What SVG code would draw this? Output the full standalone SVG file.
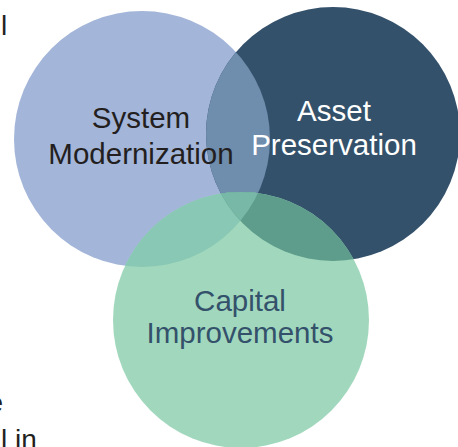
<svg xmlns="http://www.w3.org/2000/svg" width="458" height="447" viewBox="0 0 458 447">
<style>
.t{font-family:"Liberation Sans",Arial,sans-serif;font-size:29.5px;text-anchor:middle}
.edge{font-family:"Liberation Sans",Arial,sans-serif;font-size:28px;fill:#231F20}
</style>
<defs>
<clipPath id="cL"><circle cx="142" cy="139" r="128"/></clipPath>
<clipPath id="cR"><circle cx="333" cy="134" r="127"/></clipPath>
<clipPath id="cB"><circle cx="241" cy="320" r="128"/></clipPath>
</defs>
<rect width="458" height="447" fill="#FFFFFF"/>
<g id="edge-text">
<text class="edge" x="-9" y="-1">y</text>
<text class="edge" x="1" y="35">l</text>
<text class="edge" x="-12.5" y="412">e</text>
<text class="edge" x="1" y="449">l in</text>
</g>
<g id="system-modernization">
<circle cx="142" cy="139" r="128" fill="#A3B5D9"/>
</g>
<g id="asset-preservation">
<circle cx="333" cy="134" r="127" fill="#34516B"/>
<circle cx="333" cy="134" r="127" fill="#6F8DAD" clip-path="url(#cL)"/>
</g>
<g id="capital-improvements">
<circle cx="241" cy="320" r="128" fill="#A1D8BD"/>
<circle cx="241" cy="320" r="128" fill="#89C8B4" clip-path="url(#cL)"/>
<circle cx="241" cy="320" r="128" fill="#5E9C8B" clip-path="url(#cR)"/>
<g clip-path="url(#cL)"><circle cx="241" cy="320" r="128" fill="#77B9A6" clip-path="url(#cR)"/></g>
</g>
<g id="labels">
<text class="t" x="141" y="128" fill="#231F20">System</text>
<text class="t" x="141" y="164" fill="#231F20">Modernization</text>
<text class="t" x="334" y="121" fill="#FFFFFF">Asset</text>
<text class="t" x="334" y="155" fill="#FFFFFF">Preservation</text>
<text class="t" x="240" y="311" fill="#34516B">Capital</text>
<text class="t" x="240" y="343" fill="#34516B">Improvements</text>
</g>
<g id="connectors"/>
</svg>
